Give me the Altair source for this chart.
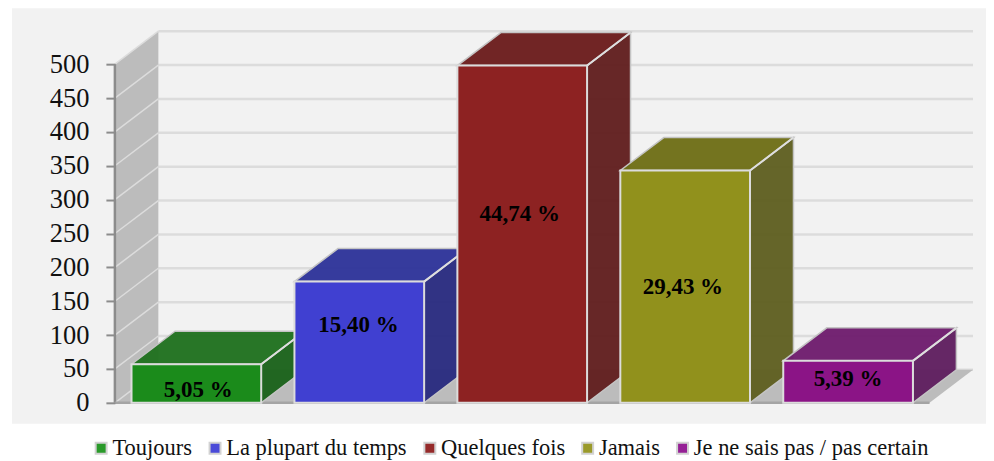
import altair as alt
import pandas as pd

categories = ["Toujours", "La plupart du temps", "Quelques fois", "Jamais", "Je ne sais pas / pas certain"]
values = [57, 179, 498, 343, 62]
percent_labels = ["5,05 %", "15,40 %", "44,74 %", "29,43 %", "5,39 %"]
label_heights = [19, 115, 279, 171, 35]
label_shift = [0.012, -0.005, -0.015, -0.014, 0.0]
legend_colors = ["#2a9a2a", "#4a4ad8", "#952a2a", "#9a9a2a", "#952095"]
front_colors = ["#1b8a1b", "#3f3fd0", "#8c2222", "#91911c", "#8a1485"]
top_colors = ["#217220", "#30359a", "#6c1e1e", "#6f6f18", "#701e6e"]
side_colors = ["#1c631c", "#2a2c80", "#622020", "#606022", "#602060"]
ticks = [0, 50, 100, 150, 200, 250, 300, 350, 400, 450, 500]

SERIF = "Liberation Serif"
W, H = 979, 452
PX_PER_UNIT = 0.678
SLOT_PX = 163.1
AXIS_X = 115 - 8
ZERO_Y = 403 - 8
DX = 43.5 / SLOT_PX
DY = 33 / PX_PER_UNIT
HALF = 0.398
LEFT, RIGHT = -0.5, 4.5

x_scale = alt.Scale(domain=[-0.5 - AXIS_X / SLOT_PX, -0.5 + (W - AXIS_X) / SLOT_PX], nice=False, zero=False)
y_scale = alt.Scale(domain=[-(H - ZERO_Y) / PX_PER_UNIT, ZERO_Y / PX_PER_UNIT], nice=False, zero=False)
PANEL_BOTTOM = -(424 - 403) / PX_PER_UNIT
PANEL_LEFT = -0.5 - (115 - 12) / SLOT_PX
PANEL_RIGHT = -0.5 + (987 - 115) / SLOT_PX

y_axis = alt.Axis(
    values=ticks, format="d", title=None, domain=False, grid=False, offset=-AXIS_X, zindex=1,
    tickColor="#8c8c8c", tickWidth=2, tickSize=9, labelPadding=17, labelFont=SERIF,
    labelFontSize=26.5, labelColor="#111111",
)
X = alt.X("x:Q", scale=x_scale, axis=None)
Y = alt.Y("y:Q", scale=y_scale, axis=y_axis)
color_enc = alt.Color(
    "cat:N",
    scale=alt.Scale(domain=categories, range=legend_colors),
    legend=alt.Legend(
        orient="none", legendX=82, legendY=429, direction="horizontal", columns=5, title=None,
        symbolType="square", symbolSize=120, symbolStrokeColor="#d2d2d2", symbolStrokeWidth=2,
        symbolOpacity=1, labelFont=SERIF, labelFontSize=22.5, labelColor="#111111", labelLimit=400,
        labelOffset=0, columnPadding=11, padding=0,
    ),
)


def span(x0, x1, y0, y1, **kw):
    return pd.DataFrame([dict(x=x0, x2=x1, y=y0, y2=y1, **kw)])


def rect(df, **mk):
    return alt.Chart(df).mark_rect(**mk).encode(x=X, x2="x2:Q", y=Y, y2="y2:Q")


def vert_para(x0, x1, y0t, y1t, y0b, y1b, **mk):
    df = pd.DataFrame({"x": [x0, x1], "y": [y0t, y1t], "y2": [y0b, y1b]})
    return alt.Chart(df).mark_area(**mk).encode(x=X, y=Y, y2="y2:Q")


def horiz_para(y0, y1, x0a, x1a, x0b, x1b, **mk):
    df = pd.DataFrame({"y": [y0, y1], "x": [x0a, x1a], "x2": [x0b, x1b]})
    return alt.Chart(df).mark_area(orient="horizontal", **mk).encode(x=X, x2="x2:Q", y=Y)


def hrule(df, **mk):
    return alt.Chart(df).mark_rule(**mk).encode(x=X, x2="x2:Q", y=Y)


layers = []
layers.append(rect(span(PANEL_LEFT, PANEL_RIGHT, PANEL_BOTTOM, ZERO_Y / PX_PER_UNIT), fill="#f2f2f2"))

# back grid
grid_df = pd.DataFrame({"y": [t + DY for t in ticks], "x": LEFT + DX, "x2": RIGHT + DX})
layers.append(hrule(grid_df, color="#dcdcdc", strokeWidth=2.5))
# floor and wall
layers.append(horiz_para(0, DY, LEFT, LEFT + DX, RIGHT, RIGHT + DX, fill="#bcbcbc"))
layers.append(vert_para(LEFT, LEFT + DX, 500, 500 + DY, 0, DY, fill="#bcbcbc"))
for t in ticks:
    d = pd.DataFrame({"x": [LEFT, LEFT + DX], "y": [t, t + DY]})
    layers.append(alt.Chart(d).mark_line(color="#dcdcdc", strokeWidth=1.5).encode(x=X, y=Y))
# axis lines
layers.append(alt.Chart(pd.DataFrame({"x": [LEFT], "y": [0], "y2": [500]})).mark_rule(
    color="#8c8c8c", strokeWidth=2.5).encode(x=X, y=Y, y2="y2:Q"))
layers.append(hrule(span(LEFT, RIGHT, 0, 0), color="#a4a4a4", strokeWidth=2.5))

# bars, back to front left to right
for i, cat in enumerate(categories):
    v = values[i]
    xl, xr = i - HALF, i + HALF
    layers.append(vert_para(xr, xr + DX, v, v + DY, 0, DY, fill=side_colors[i], stroke="#c4c4c4",
                            strokeWidth=1.5, fillOpacity=0.97))
    layers.append(horiz_para(v, v + DY, xl, xl + DX, xr, xr + DX, fill=top_colors[i], stroke="#c4c4c4",
                             strokeWidth=1.5, fillOpacity=0.97))
    d = pd.DataFrame({"x": [xr, xr + DX], "y": [v, v + DY]})
    layers.append(alt.Chart(d).mark_line(color="#dedede", strokeWidth=2).encode(x=X, y=Y))
    # legend colour is shared; the front face fill is set by a second rectangle
    layers.append(rect(span(xl, xr, 0, v, cat=cat), opacity=1).encode(color=color_enc))
    layers.append(rect(span(xl, xr, 0, v), fill=front_colors[i], fillOpacity=0.96,
                       stroke="#dcdcdc", strokeWidth=2))

for i, lab in enumerate(percent_labels):
    d = pd.DataFrame({"x": [i + label_shift[i]], "y": [label_heights[i]], "t": [lab]})
    layers.append(alt.Chart(d).mark_text(font=SERIF, fontWeight="bold", fontSize=23, color="#000000",
                                         baseline="middle", align="center").encode(x=X, y=Y, text="t:N"))

chart = alt.layer(*layers).properties(
    width=W, height=H, padding=0, background="#ffffff",
    autosize=alt.AutoSizeParams(type="none"),
).configure_view(stroke=None)

chart.save("out.html", embed_options={"renderer": "svg", "actions": False})
